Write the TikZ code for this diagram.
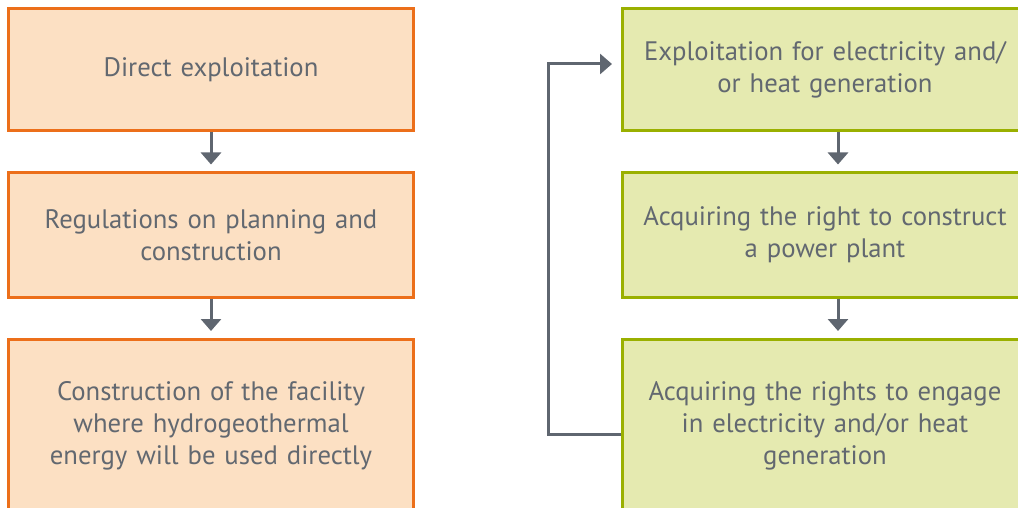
\documentclass[tikz,border=0pt]{standalone}
\usepackage{fontspec}
\setmainfont{PT Sans}
\usetikzlibrary{arrows.meta}
\definecolor{txtgray}{HTML}{626870}
\definecolor{arrgray}{HTML}{5F6670}
\definecolor{orangeline}{HTML}{EC6F1A}
\definecolor{orangefill}{HTML}{FCE0C3}
\definecolor{greenline}{HTML}{9AB000}
\definecolor{greenfill}{HTML}{E5EAB0}
\begin{document}
\begin{tikzpicture}[x=1pt,y=1pt,
  box/.style={rectangle, line width=3pt, minimum width=405pt, text width=400pt,
    align=center, text=txtgray, font=\fontsize{26.7}{32}\selectfont, inner sep=0pt},
  leftbox/.style={box, draw=orangeline, fill=orangefill},
  rightbox/.style={box, draw=greenline, fill=greenfill},
  flow/.style={draw=arrgray, line width=3pt, -{Triangle[width=20pt,length=12pt]}}
]
\useasboundingbox (0,0) rectangle (1018,-508);
\clip (0,0) rectangle (1018,-508);

%left column
\node[leftbox, minimum height=122pt] (l1) at (211,-69.5) {Direct exploitation};
\node[leftbox, minimum height=124pt] (l2) at (211,-235) {Regulations on planning and\\construction};
\node[leftbox, minimum height=173pt] (l3) at (211,-426) {Construction of the facility\\where hydrogeothermal\\energy will be used directly};

%right column
\node[rightbox, minimum height=122pt] (r1) at (825,-69.5) {Exploitation for electricity and/\\or heat generation};
\node[rightbox, minimum height=124pt] (r2) at (825,-235) {Acquiring the right to construct\\a power plant};
\node[rightbox, minimum height=173pt] (r3) at (825,-426) {Acquiring the rights to engage\\in electricity and/or heat\\generation};

%arrows
\draw[flow, shorten >=7pt] (l1) -- (l2);
\draw[flow, shorten >=7pt] (l2) -- (l3);
\draw[flow, shorten >=7pt] ([xshift=13pt]r1.south) -- ([xshift=13pt]r2.north);
\draw[flow, shorten >=7pt] ([xshift=13pt]r2.south) -- ([xshift=13pt]r3.north);

%feedback
\coordinate (fbstart) at ([yshift=-8pt]r3.west);
\coordinate (fbend) at ([yshift=5.5pt]r1.west);
\draw[flow, shorten >=9pt] (fbstart) -- ++(-73,0) |- (fbend);
\end{tikzpicture}
\end{document}
